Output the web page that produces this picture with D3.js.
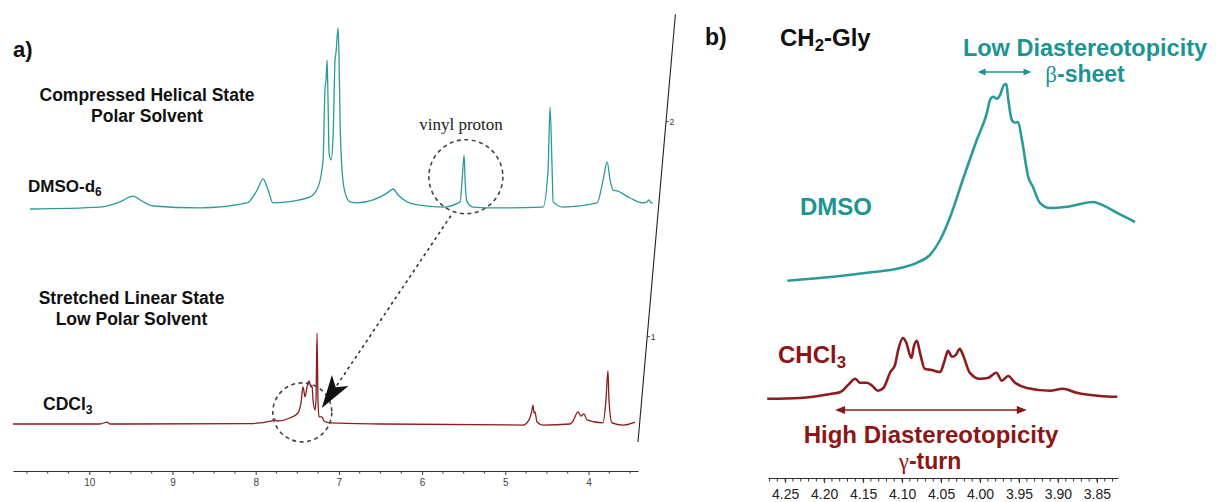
<!DOCTYPE html>
<html>
<head>
<meta charset="utf-8">
<script src="https://cdn.jsdelivr.net/npm/d3@7"></script>
<style>
  body { margin: 0; background: #fff; }
  svg { display: block; font-family: "Liberation Sans", Arial, Helvetica, sans-serif; }
</style>
</head>
<body>
<div id="chart"></div>
<script>

// ---------- data ----------

// panel a, ppm axis ticks and stacked-intensity ticks
var ppmTicksA = [10, 9, 8, 7, 6, 5, 4];
var stackTicks = [1, 2];

// baselines of the two stacked traces (in stack intensity units)
var dmsoBase = 1.594;
var cdclBase = 0.594;

// DMSO-d6 trace: [ppm, intensity above baseline]
var dmsoTrace = [
  [10.938, 0], [10.096, 0.009], [9.856, 0.033], [9.700, 0.060], [9.615, 0.042], [9.459, 0.014],
  [8.894, 0.005], [8.329, 0.028], [8.209, 0.088], [8.137, 0.140], [8.077, 0.088], [8.017, 0.028],
  [7.849, 0.033], [7.572, 0.056], [7.476, 0.102], [7.416, 0.228], [7.392, 0.567], [7.380, 0.600],
  [7.368, 0.693], [7.356, 0.493], [7.344, 0.260], [7.320, 0.228], [7.296, 0.335], [7.272, 0.693],
  [7.260, 0.730], [7.236, 0.842], [7.224, 0.693], [7.212, 0.414], [7.188, 0.181], [7.151, 0.074],
  [7.091, 0.033], [7.007, 0.028], [6.815, 0.042], [6.647, 0.074], [6.575, 0.093], [6.514, 0.065],
  [6.406, 0.033], [6.286, 0.019], [5.974, 0.009], [5.769, 0.033], [5.745, 0.135], [5.721, 0.251],
  [5.709, 0.135], [5.685, 0.033], [5.613, 0.009], [5.325, 0.005], [4.772, 0.009], [4.712, 0.181],
  [4.688, 0.474], [4.663, 0.181], [4.651, 0.033], [4.531, 0.009], [4.123, 0.028], [4.050, 0.135],
  [4.002, 0.219], [3.966, 0.135], [3.930, 0.088], [3.882, 0.084], [3.726, 0.051], [3.570, 0.028],
  [3.522, 0.033], [3.498, 0.042], [3.474, 0.028], [3.450, 0.028]
];

// CDCl3 trace: [ppm, intensity above baseline]
var cdclTrace = [
  [10.917, 0], [9.871, 0], [9.787, 0.009], [9.751, 0], [8.069, 0.002], [7.804, 0.014],
  [7.780, 0.023], [7.744, 0.014], [7.588, 0.028], [7.492, 0.051], [7.456, 0.098], [7.431, 0.172],
  [7.407, 0.126], [7.383, 0.172], [7.359, 0.200], [7.335, 0.172], [7.323, 0.181], [7.311, 0.112],
  [7.287, 0.065], [7.275, 0.112], [7.263, 0.423], [7.251, 0.112], [7.239, 0.033], [7.203, 0.033],
  [7.179, 0.014], [7.107, 0.005], [6.470, 0], [4.787, -0.005], [4.715, 0.019], [4.679, 0.065],
  [4.667, 0.088], [4.655, 0.051], [4.643, 0.056], [4.619, 0.009], [4.547, -0.005], [4.222, 0],
  [4.186, 0.014], [4.126, 0.056], [4.091, 0.037], [4.055, 0.047], [4.019, 0.019], [3.826, 0.005],
  [3.790, 0.112], [3.766, 0.247], [3.754, 0.112], [3.718, 0.005], [3.586, -0.005], [3.466, 0.005],
  [3.442, 0.009]
];

// panel b, CH2-Gly region
var ppmTicksB = [4.25, 4.20, 4.15, 4.10, 4.05, 4.00, 3.95, 3.90, 3.85];

// DMSO: [ppm, intensity]
var glyDmso = [
  [4.269, 0.298], [4.210, 0.308], [4.167, 0.318], [4.124, 0.330], [4.103, 0.343], [4.086, 0.363],
  [4.073, 0.400], [4.060, 0.458], [4.044, 0.550], [4.026, 0.650], [4.013, 0.718], [4.009, 0.750],
  [4.005, 0.758], [4.000, 0.753], [3.996, 0.763], [3.991, 0.788], [3.988, 0.790], [3.986, 0.758],
  [3.981, 0.700], [3.977, 0.693], [3.973, 0.695], [3.968, 0.650], [3.960, 0.558], [3.954, 0.533],
  [3.945, 0.493], [3.932, 0.480], [3.910, 0.483], [3.877, 0.495], [3.868, 0.490], [3.846, 0.468],
  [3.823, 0.445]
];

// CHCl3: [ppm, intensity]
var glyChcl = [
  [4.273, 0.003], [4.231, 0.005], [4.192, 0.015], [4.179, 0.020], [4.169, 0.038], [4.160, 0.053],
  [4.154, 0.043], [4.145, 0.043], [4.138, 0.035], [4.131, 0.023], [4.124, 0.030], [4.115, 0.070],
  [4.109, 0.088], [4.105, 0.125], [4.099, 0.155], [4.095, 0.145], [4.088, 0.105], [4.085, 0.133],
  [4.081, 0.148], [4.077, 0.118], [4.071, 0.078], [4.062, 0.075], [4.051, 0.070], [4.046, 0.095],
  [4.041, 0.123], [4.036, 0.108], [4.031, 0.113], [4.026, 0.128], [4.022, 0.113], [4.013, 0.068],
  [4.000, 0.053], [3.990, 0.055], [3.979, 0.068], [3.972, 0.048], [3.964, 0.060], [3.955, 0.043],
  [3.940, 0.030], [3.910, 0.023], [3.894, 0.028], [3.876, 0.018], [3.846, 0.010], [3.824, 0.008]
];

// ---------- layout ----------
var W = 1216, H = 502;
var teal = '#2a9b98', tealText = '#1c9592';
var red = '#8e1c1c', redText = '#8c1616';
var ink = '#111';

var svg = d3.select('#chart').append('svg')
  .attr('width', W)
  .attr('height', H);

// small helper: filled arrow head, tip + unit direction
function arrowHead(g, tip, u, len, half, notch, color) {
  var n = [-u[1], u[0]];
  var b = [tip[0] - len * u[0], tip[1] - len * u[1]];
  var m = [tip[0] - (len - notch) * u[0], tip[1] - (len - notch) * u[1]];
  var pts = [tip, [b[0] + half * n[0], b[1] + half * n[1]], m, [b[0] - half * n[0], b[1] - half * n[1]]];
  g.append('path').attr('d', 'M' + pts.join('L') + 'Z').attr('fill', color);
}

function doubleArrow(g, x1, x2, y, len, half, color) {
  g.append('line')
    .attr('x1', x1 + len - 1).attr('x2', x2 - len + 1)
    .attr('y1', y).attr('y2', y)
    .attr('stroke', color).attr('stroke-width', 1.6);
  arrowHead(g, [x1, y], [-1, 0], len, half, 0, color);
  arrowHead(g, [x2, y], [1, 0], len, half, 0, color);
}

// text with subscript
function subText(g, x, y, main, sub, rest, size, color) {
  var t = g.append('text').attr('x', x).attr('y', y)
    .attr('font-size', size).attr('font-weight', 'bold').attr('fill', color);
  t.append('tspan').text(main);
  t.append('tspan').attr('font-size', size * 0.7).attr('dy', size * 0.22).text(sub);
  if (rest) t.append('tspan').attr('dy', -size * 0.22).text(rest);
  return t;
}

/* ################ PANEL A ################ */

var pa = svg.append('g');

var xA = d3.scaleLinear().domain([10.917, 3.405]).range([13, 638]);
var yA = d3.scaleLinear().domain([1, 2]).range([336.7, 121.7]);
var skewPx = 18.8;          // horizontal shift per stack unit
var axisFoot = 0.51;        // bottom of slanted axis
var axisTop = 2.5;

function slantX(v) { return xA.range()[1] + (v - axisFoot) * skewPx; }

function traceLine(base) {
  var dx = (base - cdclBase) * skewPx;
  return d3.line()
    .x(function (d) { return xA(d[0]) + dx; })
    .y(function (d) { return yA(base + d[1]); })
    .curve(d3.curveMonotoneX);
}

pa.append('path')
  .datum(dmsoTrace)
  .attr('d', traceLine(dmsoBase))
  .attr('fill', 'none').attr('stroke', teal).attr('stroke-width', 1.3);

pa.append('path')
  .datum(cdclTrace)
  .attr('d', traceLine(cdclBase))
  .attr('fill', 'none').attr('stroke', red).attr('stroke-width', 1.3);

// slanted stack axis
pa.append('line')
  .attr('x1', slantX(axisFoot)).attr('y1', yA(axisFoot))
  .attr('x2', slantX(axisTop)).attr('y2', yA(axisTop))
  .attr('stroke', '#222').attr('stroke-width', 1.1);

stackTicks.forEach(function (v) {
  var x = slantX(v), y = yA(v);
  pa.append('line').attr('x1', x).attr('x2', x + 3).attr('y1', y).attr('y2', y)
    .attr('stroke', '#222').attr('stroke-width', 0.8);
  pa.append('text').attr('x', x + 3.5).attr('y', y + 3)
    .attr('font-size', 8.5).attr('fill', '#333').text(v);
});

// ppm axis
var axA = pa.append('g')
  .attr('transform', 'translate(0,471)')
  .call(d3.axisBottom(xA).tickValues(ppmTicksA).tickSize(4).tickSizeOuter(0).tickPadding(4));
axA.select('.domain').attr('stroke', '#333').attr('stroke-width', 1.2);
axA.selectAll('.tick line').attr('stroke', '#333');
axA.selectAll('.tick text').attr('font-size', 10).attr('fill', '#444')
  .attr('font-family', '"Liberation Sans", Arial, sans-serif');

d3.range(3.5, 10.91, 0.25).filter(function (v) { return v % 1 !== 0; }).forEach(function (v) {
  axA.append('line').attr('x1', xA(v)).attr('x2', xA(v)).attr('y1', 0).attr('y2', 2.5)
    .attr('stroke', '#333').attr('stroke-width', 1);
});

// labels
pa.append('text').attr('x', 13).attr('y', 57).attr('font-size', 22).attr('font-weight', 'bold')
  .attr('fill', ink).text('a)');

pa.append('text').attr('x', 147).attr('y', 101).attr('text-anchor', 'middle')
  .attr('font-size', 17.5).attr('font-weight', 'bold').attr('fill', ink).text('Compressed Helical State');
pa.append('text').attr('x', 147).attr('y', 122).attr('text-anchor', 'middle')
  .attr('font-size', 17.5).attr('font-weight', 'bold').attr('fill', ink).text('Polar Solvent');
subText(pa, 28, 192, 'DMSO-d', '6', null, 17, ink);

pa.append('text').attr('x', 131.5).attr('y', 304).attr('text-anchor', 'middle')
  .attr('font-size', 17.5).attr('font-weight', 'bold').attr('fill', ink).text('Stretched Linear State');
pa.append('text').attr('x', 131.5).attr('y', 325).attr('text-anchor', 'middle')
  .attr('font-size', 17.5).attr('font-weight', 'bold').attr('fill', ink).text('Low Polar Solvent');
subText(pa, 43, 410, 'CDCl', '3', null, 17.5, ink);

pa.append('text').attr('x', 461).attr('y', 130).attr('text-anchor', 'middle')
  .attr('font-family', '"Liberation Serif", "Times New Roman", serif')
  .attr('font-size', 17).attr('fill', '#222').text('vinyl proton');

// dashed circles (vinyl peak in DMSO, aromatic group in CDCl3)
var c1 = [xA(5.70) + (dmsoBase - cdclBase) * skewPx, yA(dmsoBase + 0.15)];
var c2 = [xA(7.44), yA(cdclBase + 0.054)];
[[c1, 37], [c2, 29.5]].forEach(function (c) {
  pa.append('circle').attr('cx', c[0][0]).attr('cy', c[0][1]).attr('r', c[1])
    .attr('fill', 'none').attr('stroke', '#444').attr('stroke-width', 1.6)
    .attr('stroke-dasharray', '4,3.5');
});

// dashed arrow
var aStart = [c1[0] - 15, c1[1] + 39];
var aTip = [c2[0] + 19.5, c2[1] - 4.5];
var adx = aTip[0] - aStart[0], ady = aTip[1] - aStart[1];
var alen = Math.sqrt(adx * adx + ady * ady);
var au = [adx / alen, ady / alen];
pa.append('line')
  .attr('x1', aStart[0]).attr('y1', aStart[1])
  .attr('x2', aTip[0] - 24 * au[0]).attr('y2', aTip[1] - 24 * au[1])
  .attr('stroke', '#333').attr('stroke-width', 1.6).attr('stroke-dasharray', '3,3.5');
arrowHead(pa, aTip, au, 33, 10, 8, '#111');

/* ################ PANEL B ################ */

var pb = svg.append('g');

var xB = d3.scaleLinear().domain([4.272, 3.823]).range([768, 1118]);
var yB = d3.scaleLinear().domain([0, 1]).range([400, 0]);
var glyShift = 17;

pb.append('path')
  .datum(glyDmso)
  .attr('d', d3.line()
    .x(function (d) { return xB(d[0]) + glyShift; })
    .y(function (d) { return yB(d[1]); })
    .curve(d3.curveMonotoneX))
  .attr('fill', 'none').attr('stroke', teal).attr('stroke-width', 2.6)
  .attr('stroke-linejoin', 'round');

pb.append('path')
  .datum(glyChcl)
  .attr('d', d3.line()
    .x(function (d) { return xB(d[0]); })
    .y(function (d) { return yB(d[1]); })
    .curve(d3.curveMonotoneX))
  .attr('fill', 'none').attr('stroke', red).attr('stroke-width', 2.6)
  .attr('stroke-linejoin', 'round');

var axB = pb.append('g')
  .attr('transform', 'translate(0,478)')
  .call(d3.axisBottom(xB).tickValues(ppmTicksB).tickFormat(d3.format('.2f'))
    .tickSize(5).tickSizeOuter(0).tickPadding(6));
axB.select('.domain').attr('stroke', '#333').attr('stroke-width', 1.2);
axB.selectAll('.tick line').attr('stroke', '#333');
axB.selectAll('.tick text').attr('font-size', 14).attr('fill', '#222')
  .attr('font-family', '"Liberation Sans", Arial, sans-serif');

d3.range(3.83, 4.271, 0.01).forEach(function (v) {
  axB.append('line').attr('x1', xB(v)).attr('x2', xB(v)).attr('y1', 0).attr('y2', 3.5)
    .attr('stroke', '#333').attr('stroke-width', 1);
});

pb.append('text').attr('x', 705).attr('y', 45).attr('font-size', 23).attr('font-weight', 'bold')
  .attr('fill', ink).text('b)');
subText(pb, 780, 46, 'CH', '2', '-Gly', 24, ink);

pb.append('text').attr('x', 1085).attr('y', 56).attr('text-anchor', 'middle')
  .attr('font-size', 23.5).attr('font-weight', 'bold').attr('fill', tealText).text('Low Diastereotopicity');
var bs = pb.append('text').attr('x', 1085).attr('y', 82).attr('text-anchor', 'middle')
  .attr('font-size', 23).attr('font-weight', 'bold').attr('fill', tealText);
bs.append('tspan').attr('font-family', '"Liberation Serif", serif').attr('font-weight', 'normal').text('β');
bs.append('tspan').text('-sheet');
doubleArrow(pb, xB(4.003) , xB(3.934), 72, 8, 3.5, tealText);

pb.append('text').attr('x', 800).attr('y', 215)
  .attr('font-size', 24).attr('font-weight', 'bold').attr('fill', tealText).text('DMSO');

subText(pb, 778, 363, 'CHCl', '3', null, 24, redText);
doubleArrow(pb, xB(4.186), xB(3.940), 410, 10, 4, redText);
pb.append('text').attr('x', 931).attr('y', 443).attr('text-anchor', 'middle')
  .attr('font-size', 24).attr('font-weight', 'bold').attr('fill', redText).text('High Diastereotopicity');
var gt = pb.append('text').attr('x', 930).attr('y', 469).attr('text-anchor', 'middle')
  .attr('font-size', 23).attr('font-weight', 'bold').attr('fill', redText);
gt.append('tspan').attr('font-family', '"Liberation Serif", serif').attr('font-weight', 'normal').text('γ');
gt.append('tspan').text('-turn');

</script>
</body>
</html>
